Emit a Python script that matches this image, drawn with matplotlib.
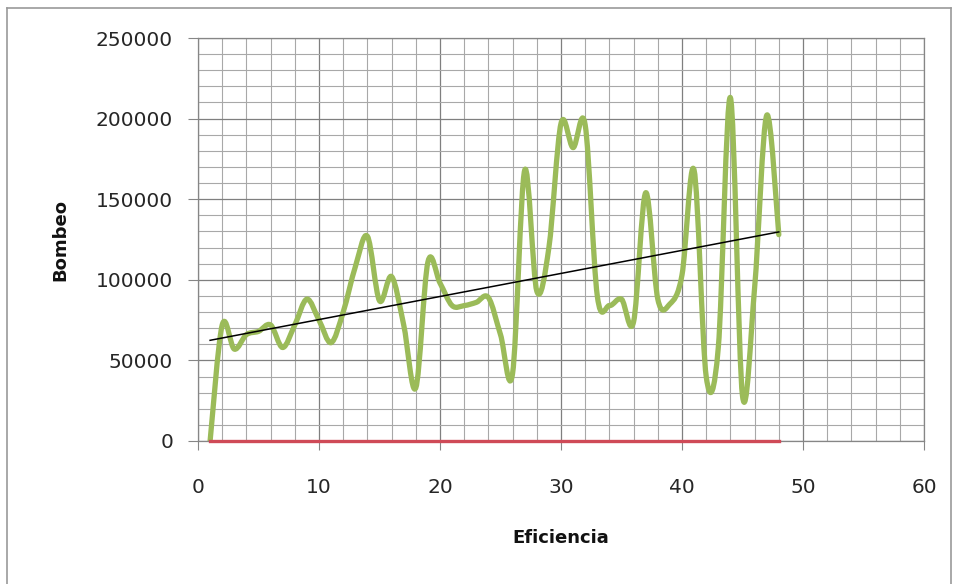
import numpy as np
import matplotlib.pyplot as plt
from matplotlib.path import Path
from matplotlib.patches import PathPatch
from matplotlib.lines import Line2D

# data
eficiencia = list(range(1, 49))
bombeo = [0, 72000, 57000, 66000, 68000, 72000, 58000, 72000, 88000, 75000,
          61000, 80000, 108000, 127000, 87000, 102000, 72000, 33000, 111000, 98000,
          84000, 84000, 86000, 89000, 66000, 42000, 168000, 93000, 120000, 197000,
          182000, 196000, 90000, 84000, 88000, 74000, 154000, 88000, 85000, 103000,
          168000, 40000, 58000, 213000, 28000, 95000, 202000, 128000]
base = [0] * 48

x_ticks = [0, 10, 20, 30, 40, 50, 60]
y_ticks = [0, 50000, 100000, 150000, 200000, 250000]


def smooth_path(xs, ys):
    # excel style smoothed line: catmull-rom turned into bezier pieces
    pts = np.column_stack([xs, ys]).astype(float)
    n = len(pts)
    verts = [pts[0]]
    codes = [Path.MOVETO]
    for i in range(n - 1):
        p0 = pts[i - 1] if i > 0 else pts[i]
        p1 = pts[i]
        p2 = pts[i + 1]
        p3 = pts[i + 2] if i + 2 < n else pts[i + 1]
        c1 = p1 + (p2 - p0) / 6.0
        c2 = p2 - (p3 - p1) / 6.0
        verts += [c1, c2, p2]
        codes += [Path.CURVE4] * 3
    return Path(verts, codes)


W, H = 958, 584
fig = plt.figure(figsize=(W / 100, H / 100), dpi=100)
ax = fig.add_axes([198 / W, 1 - 441 / H, (924 - 198) / W, (441 - 38) / H])

ax.set_xlim(0, 60)
ax.set_ylim(0, 250000)
ax.set_xticks(x_ticks)
ax.set_yticks(y_ticks)
ax.set_xticks(np.arange(0, 61, 2), minor=True)
ax.set_yticks(np.arange(0, 250001, 10000), minor=True)

ax.grid(which='major', color='#7f7f7f', lw=0.9)
ax.grid(which='minor', color='#a8a8a8', lw=0.8)
ax.set_axisbelow(True)

for s in ax.spines.values():
    s.set_color('#868686')
    s.set_linewidth(0.9)

ax.tick_params(which='minor', length=0)
ax.tick_params(axis='y', which='major', length=7, color='#868686', pad=11,
               labelsize=14.5, labelcolor='#262626')
ax.tick_params(axis='x', which='major', length=6.5, color='#868686', pad=20,
               labelsize=14.5, labelcolor='#262626')

# series
patch = PathPatch(smooth_path(eficiencia, bombeo), facecolor='none',
                  edgecolor='#9BBB59', lw=3.8, capstyle='round', joinstyle='round', zorder=3)
ax.add_patch(patch)
ax.plot(eficiencia, base, color='#CF4A57', lw=2.4, zorder=4, clip_on=False)

# linear trend line
k, b = np.polyfit(eficiencia, bombeo, 1)
xt = np.array([eficiencia[0], eficiencia[-1]])
ax.plot(xt, k * xt + b, color='black', lw=1.1, zorder=5)

fig.text(561 / W, 1 - 538 / H, 'Eficiencia', ha='center', va='center',
         fontsize=13, fontweight='bold', color='#111111')
fig.text(60.5 / W, 1 - 240 / H, 'Bombeo', ha='center', va='center', rotation=90,
         fontsize=13, fontweight='bold', color='#111111')

# chart area border
fig.add_artist(Line2D([7 / W, 7 / W], [0, 1 - 8 / H], color='#9a9a9a', lw=1.2))
fig.add_artist(Line2D([7 / W, 951 / W], [1 - 8 / H, 1 - 8 / H], color='#9a9a9a', lw=1.2))
fig.add_artist(Line2D([951 / W, 951 / W], [0, 1 - 8 / H], color='#9a9a9a', lw=1.2))

fig.savefig('out.png', dpi=100)
